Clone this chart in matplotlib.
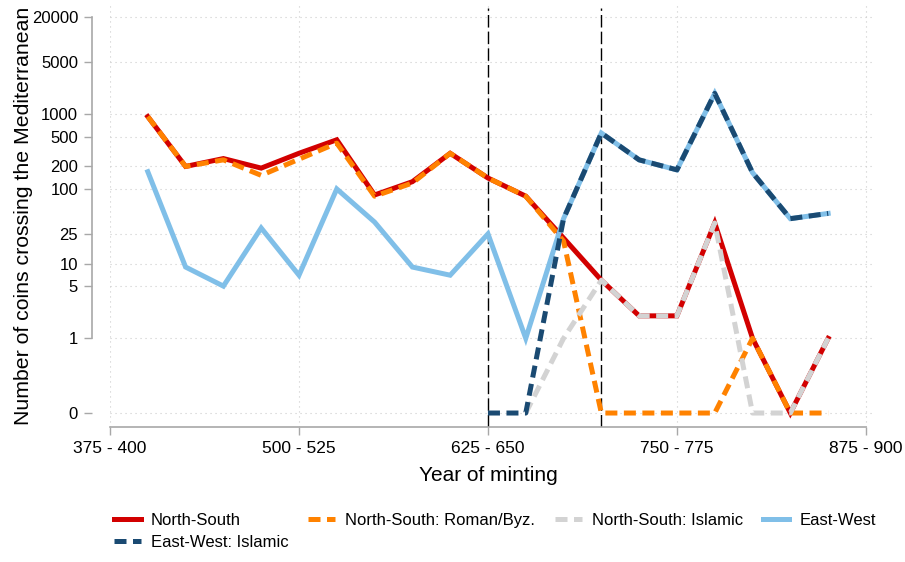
import numpy as np
import matplotlib
matplotlib.use("Agg")
import matplotlib.pyplot as plt

plt.rcParams['font.family'] = ['Liberation Sans', 'DejaVu Sans']

# --- data: coins per 25-year period (start year), 0 = none, nan = no series ---
periods = [400, 425, 450, 475, 500, 525, 550, 575, 600, 625,
           650, 675, 700, 725, 750, 775, 800, 825, 850]
nan = np.nan
north_south = [930, 200, 255, 190, 300, 455, 83, 125, 300, 140,
               80, 22, 6, 2, 2, 35, 1, 0, 1]
ns_roman = [930, 200, 245, 152, 250, 410, 80, 120, 300, 140,
            80, 20, 0, 0, 0, 0, 1, 0, 0]
ns_islamic = [nan, nan, nan, nan, nan, nan, nan, nan, nan, nan,
              0, 1, 6, 2, 2, 35, 0, 0, 1]
east_west = [170, 9, 5, 30, 7, 100, 36, 9, 7, 25,
             1, 40, 560, 245, 180, 1900, 165, 40, 47]
ew_islamic = [nan, nan, nan, nan, nan, nan, nan, nan, nan, 0,
              0, 40, 560, 245, 180, 1900, 165, 40, 47]

xticks = [375, 500, 625, 750, 875]
xticklabels = ["375 - 400", "500 - 525", "625 - 650", "750 - 775", "875 - 900"]
yticks = [0, 1, 5, 10, 25, 100, 200, 500, 1000, 5000, 20000]
breaks = [625, 700]

ZERO = 0.1  # where "0" sits on the log axis


def to_log(v):
    v = np.array(v, dtype=float)
    return np.where(v == 0, ZERO, v)


fig = plt.figure(figsize=(9.05, 5.62), dpi=100)
ax = fig.add_axes([110 / 905, 1 - 427 / 562, 765 / 905, 422 / 562])

lw = 3.6
dash = (0, (2.4, 1.3))
series = [
    ("North-South", north_south, "#d20000", "-"),
    ("North-South: Roman/Byz.", ns_roman, "#ff8200", dash),
    ("North-South: Islamic", ns_islamic, "#d3d3d3", dash),
    ("East-West", east_west, "#80bfe8", "-"),
    ("East-West: Islamic", ew_islamic, "#1a4a72", dash),
]
handles = {}
for name, vals, col, ls in series:
    h, = ax.plot(periods, to_log(vals), color=col, lw=lw, ls=ls,
                 dash_capstyle="butt", solid_joinstyle="miter", label=name)
    handles[name] = h

for b in breaks:
    ax.axvline(b, ymax=0.993, color="black", lw=1.0, ls=(0, (9, 3)), zorder=1)

ax.set_yscale("log")
ax.set_ylim(0.065, 29000)
ax.set_xlim(375, 881)

ax.set_yticks([ZERO if t == 0 else t for t in yticks])
ax.set_yticklabels([str(t) for t in yticks])
ax.yaxis.set_minor_locator(matplotlib.ticker.NullLocator())
ax.set_xticks(xticks)
ax.set_xticklabels(xticklabels)

ax.grid(True, color="#cccccc", lw=0.8, ls=(0, (1, 3.5)))
ax.set_axisbelow(True)

for s in ["top", "right"]:
    ax.spines[s].set_visible(False)
ax.spines["left"].set_position(("outward", 13))
ax.spines["left"].set_bounds(1, 20000)
ax.spines["bottom"].set_bounds(375, 875)
for s in ["left", "bottom"]:
    ax.spines[s].set_color("#a8a8a8")
    ax.spines[s].set_linewidth(1.2)

ax.tick_params(axis="both", colors="#a8a8a8", length=6, width=1.0,
               labelcolor="black", labelsize=12)
ax.tick_params(axis="y", pad=4)
ax.tick_params(axis="x", pad=4, labelsize=12.5)

ax.set_xlabel("Year of minting", fontsize=15)
ax.set_ylabel("Number of coins crossing the Mediterranean", fontsize=15.3)
ax.xaxis.set_label_coords(0.494, -0.092)
ax.yaxis.set_label_coords(-0.1, 0.5)

order = ["North-South", "East-West: Islamic", "North-South: Roman/Byz.",
         "North-South: Islamic", "East-West"]
fig.legend([handles[n] for n in order], order, ncol=4, frameon=False,
           loc="upper left", bbox_to_anchor=(114 / 905, 1 - 513 / 562),
           fontsize=12, handlelength=1.6, handletextpad=0.6,
           columnspacing=1.2, labelspacing=0.4, borderpad=0,
           borderaxespad=0)

fig.savefig("out.png", dpi=100)
